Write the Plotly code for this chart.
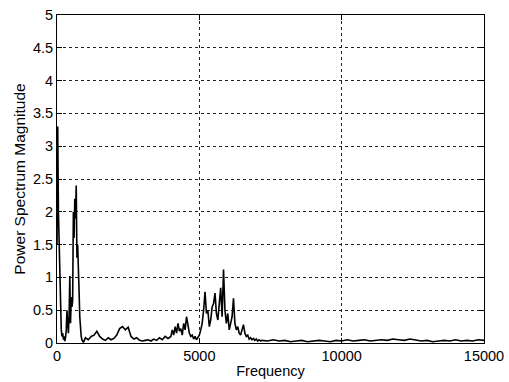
import plotly.graph_objects as go

# Frequency (Hz) and power spectrum magnitude
freq_low = [0, 25, 50, 75, 100, 125, 150, 175, 200, 225, 250, 275, 300, 325, 350, 375,
            400, 425, 450, 475, 500, 525, 550, 575, 600, 625, 650, 675, 700, 725, 750,
            775, 800, 825, 850, 875, 900, 925, 950, 975]
mag_low = [1.5, 3.3, 2.0, 1.5, 1.4, 0.6, 0.2, 0.1, 0.15, 0.05, 0.1, 0.03, 0.08, 0.2, 0.5, 0.3,
           0.15, 0.4, 1.02, 0.3, 0.7, 0.55, 0.65, 2.0, 1.6, 2.2, 1.9, 2.4, 1.3, 1.5, 0.8,
           0.8, 0.4, 0.2, 0.1, 0.05, 0.02, 0.01, 0.03, 0.05]

freq_mid = [1000, 1100, 1200, 1300, 1400, 1500, 1600, 1700, 1800, 1900, 2000, 2100, 2200,
            2300, 2400, 2500, 2600, 2700, 2800, 2900, 3000, 3100, 3200, 3300, 3400, 3500,
            3600, 3700, 3800, 3900]
mag_mid = [0.08, 0.05, 0.1, 0.12, 0.18, 0.1, 0.06, 0.04, 0.08, 0.05, 0.07, 0.12, 0.22,
           0.25, 0.2, 0.24, 0.1, 0.06, 0.08, 0.04, 0.03, 0.04, 0.05, 0.03, 0.06, 0.04,
           0.08, 0.05, 0.1, 0.07]

freq_band = [4000, 4050, 4100, 4150, 4200, 4250, 4300, 4350, 4400, 4450, 4500, 4550, 4600,
             4650, 4700, 4750, 4800, 4850, 4900, 4950, 5000, 5050, 5100, 5150, 5200, 5250,
             5300, 5350, 5400, 5450, 5500, 5550, 5600, 5650, 5700, 5750, 5800, 5850, 5900,
             5950, 6000, 6050, 6100, 6150, 6200, 6250, 6300, 6350, 6400, 6450, 6500, 6550,
             6600, 6650, 6700, 6750, 6800, 6850, 6900, 6950, 7000, 7050, 7100, 7150]
mag_band = [0.1, 0.2, 0.12, 0.25, 0.15, 0.3, 0.18, 0.22, 0.12, 0.3, 0.2, 0.4, 0.25,
            0.15, 0.1, 0.12, 0.06, 0.1, 0.05, 0.08, 0.12, 0.2, 0.3, 0.5, 0.78, 0.45,
            0.5, 0.25, 0.35, 0.55, 0.6, 0.76, 0.45, 0.35, 0.55, 0.84, 0.4, 1.12, 0.5,
            0.3, 0.45, 0.2, 0.3, 0.4, 0.68, 0.3, 0.2, 0.25, 0.15, 0.12, 0.2, 0.28,
            0.15, 0.1, 0.12, 0.06, 0.08, 0.05, 0.07, 0.04, 0.06, 0.03, 0.05, 0.03]

freq_high = [7200, 7400, 7600, 7800, 8000, 8200, 8400, 8600, 8800, 9000, 9200, 9400, 9600,
             9800, 10000, 10200, 10400, 10600, 10800, 11000, 11200, 11400, 11600, 11800,
             12000, 12200, 12400, 12600, 12800, 13000, 13200, 13400, 13600, 13800, 14000,
             14200, 14400, 14600, 14800, 15000]
mag_high = [0.04, 0.03, 0.05, 0.03, 0.04, 0.02, 0.03, 0.04, 0.02, 0.03, 0.04, 0.03, 0.02,
            0.04, 0.03, 0.05, 0.03, 0.04, 0.05, 0.03, 0.04, 0.05, 0.04, 0.06,
            0.05, 0.04, 0.06, 0.05, 0.03, 0.04, 0.02, 0.03, 0.04, 0.03, 0.05,
            0.03, 0.04, 0.03, 0.05, 0.04]

x_ticks = [0, 5000, 10000, 15000]
y_ticks = [0, 0.5, 1, 1.5, 2, 2.5, 3, 3.5, 4, 4.5, 5]

freq = freq_low + freq_mid + freq_band + freq_high
mag = mag_low + mag_mid + mag_band + mag_high

fig = go.Figure()
fig.add_trace(go.Scatter(x=freq, y=mag, mode="lines",
                         line=dict(color="black", width=1.6), showlegend=False))

family = "Liberation Sans, Arial, sans-serif"
tick_font = dict(family=family, size=14.5, color="black")
xtitle_font = dict(family=family, size=14.5, color="black")
ytitle_font = dict(family=family, size=15.5, color="black")
axis_common = dict(showline=True, linecolor="black", linewidth=1, mirror="ticks",
                   ticks="inside", ticklen=5, tickcolor="black",
                   showgrid=True, gridcolor="#222222", gridwidth=1, griddash="3px,3px",
                   zeroline=False, tickfont=tick_font)

fig.update_layout(
    width=509, height=382,
    margin=dict(l=57, r=25, t=15, b=39),
    paper_bgcolor="white", plot_bgcolor="white",
    font=tick_font,
    xaxis=dict(range=[0, 15000], tickvals=x_ticks, ticktext=[str(v) for v in x_ticks],
               title=dict(text="Frequency", font=xtitle_font, standoff=2), automargin=False,
               **axis_common),
    yaxis=dict(range=[0, 5], tickvals=y_ticks, ticktext=[f"{v:g}" for v in y_ticks],
               title=dict(text="Power Spectrum Magnitude", font=ytitle_font, standoff=3),
               automargin=False, **axis_common),
)

fig.write_html("out.html")
